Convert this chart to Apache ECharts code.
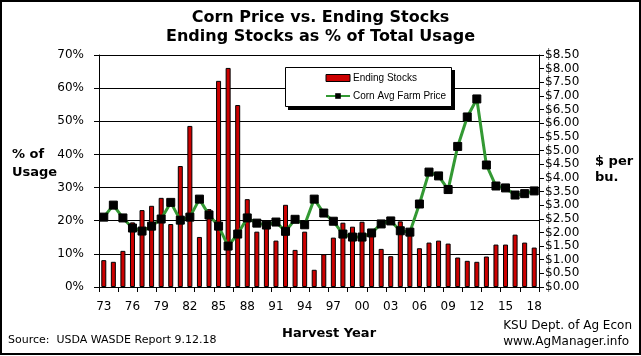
<!DOCTYPE html>
<html>
<head>
<meta charset="utf-8">
<script src="https://cdn.jsdelivr.net/npm/echarts@6/dist/echarts.min.js"></script>
<style>
html,body{margin:0;padding:0;background:#fff;}
#c{width:641px;height:356px;}
</style>
</head>
<body>
<div id="c"></div>
<script>
const years = ['73','74','75','76','77','78','79','80','81','82','83','84','85','86','87','88','89','90','91','92','93','94','95','96','97','98','99','00','01','02','03','04','05','06','07','08','09','10','11','12','13','14','15','16','17','18'];
const endingStocks = [8.1,7.6,10.9,19.5,23.2,24.5,26.9,19.0,36.5,48.6,15.1,23.5,62.2,66.1,54.9,26.5,16.7,18.0,14.0,24.8,11.2,16.7,5.2,9.9,14.9,19.4,18.2,19.7,16.3,11.5,9.3,19.8,17.0,11.7,13.4,14.0,13.1,8.9,7.9,7.6,9.2,12.8,12.8,15.8,13.4,11.9];
const cornPrice = [2.56,3.00,2.53,2.16,2.05,2.23,2.49,3.10,2.45,2.56,3.22,2.64,2.23,1.50,1.94,2.53,2.34,2.27,2.38,2.04,2.48,2.28,3.22,2.71,2.41,1.94,1.83,1.83,1.98,2.31,2.42,2.06,2.01,3.04,4.21,4.07,3.57,5.15,6.23,6.89,4.47,3.70,3.63,3.37,3.42,3.52];

const FONT = 'DejaVu Sans';
const chart = echarts.init(document.getElementById('c'), null, {renderer:'canvas'});
chart.setOption({
  backgroundColor: '#fff',
  animation: false,
  textStyle: {fontFamily: FONT, color: '#000'},
  grid: {left: 99, top: 55, width: 440, height: 232, containLabel: false},
  xAxis: {
    type: 'category',
    data: years,
    boundaryGap: true,
    axisLine: {lineStyle: {color: '#000', width: 1}},
    axisTick: {show: true, interval: 1, length: 5, lineStyle: {color: '#000'}},
    axisLabel: {interval: 2, color: '#000', fontSize: 12, fontFamily: FONT, margin: 14},
    splitLine: {show: false}
  },
  yAxis: [
    {
      type: 'value', min: 0, max: 70, interval: 10,
      axisLine: {show: true, lineStyle: {color: '#000'}},
      axisTick: {show: true, length: 5, lineStyle: {color: '#000'}},
      axisLabel: {formatter: '{value}%', color: '#000', fontSize: 12, fontFamily: FONT, margin: 15},
      splitLine: {show: true, lineStyle: {color: '#000', width: 1}}
    },
    {
      type: 'value', min: 0, max: 8.5, interval: 0.5, position: 'right',
      axisLine: {show: true, lineStyle: {color: '#000'}},
      axisTick: {show: true, length: 5, lineStyle: {color: '#000'}},
      axisLabel: {formatter: v => '$' + v.toFixed(2), color: '#000', fontSize: 12, fontFamily: FONT, margin: 6},
      splitLine: {show: false}
    }
  ],
  legend: {
    orient: 'vertical',
    left: 320, top: 68,
    itemGap: 8,
    itemWidth: 24, itemHeight: 7,
    textStyle: {fontFamily: 'Liberation Sans', fontSize: 10, color: '#000', padding: [0,0,0,-2]},
    z: 20,
    data: [
      {name: 'Ending Stocks', icon: 'rect', itemStyle: {color: '#cc0000', borderColor: '#000', borderWidth: 1}},
      {name: 'Corn Avg Farm Price'}
    ]
  },
  graphic: [
    {type: 'rect', z: 10, shape: {x: 288, y: 70, width: 167, height: 40}, style: {fill: '#000', stroke: null}},
    {type: 'rect', z: 11, shape: {x: 285.5, y: 67.5, width: 166, height: 39}, style: {fill: '#fff', stroke: '#000', lineWidth: 1}},
    {type: 'text', z: 20, left: 'center', top: 10, style: {text: 'Corn Price vs. Ending Stocks', font: 'bold 16px "DejaVu Sans"', fill: '#000'}},
    {type: 'text', z: 20, left: 'center', top: 29, style: {text: 'Ending Stocks as % of Total Usage', font: 'bold 16px "DejaVu Sans"', fill: '#000'}},
    {type: 'text', z: 20, left: 12, top: 146, style: {text: '% of\nUsage', font: 'bold 13px "DejaVu Sans"', fill: '#000', lineHeight: 18, align: 'center'}},
    {type: 'text', z: 20, left: 595, top: 154, style: {text: '$ per\nbu.', font: 'bold 13px "DejaVu Sans"', fill: '#000', lineHeight: 16, align: 'center'}},
    {type: 'text', z: 20, left: 282, top: 327, style: {text: 'Harvest Year', font: 'bold 13px "DejaVu Sans"', fill: '#000'}},
    {type: 'text', z: 20, left: 8, top: 335, style: {text: 'Source:  USDA WASDE Report 9.12.18', font: '11px "DejaVu Sans"', fill: '#000'}},
    {type: 'text', z: 20, right: 9, top: 318, style: {text: 'KSU Dept. of Ag Econ\nwww.AgManager.info', font: '12px "DejaVu Sans"', fill: '#000', lineHeight: 16, align: 'right'}},
    {type: 'rect', z: 30, shape: {x: 1, y: 1, width: 639, height: 353}, style: {fill: null, stroke: '#000', lineWidth: 2}}
  ],
  series: [
    {
      name: 'Ending Stocks', type: 'bar', yAxisIndex: 0,
      data: endingStocks, barWidth: 5,
      itemStyle: {color: '#cc0000', borderColor: '#000', borderWidth: 1},
      z: 2
    },
    {
      name: 'Corn Avg Farm Price', type: 'line', yAxisIndex: 1,
      data: cornPrice,
      lineStyle: {color: '#339933', width: 3},
      itemStyle: {color: '#000', borderColor: '#000'},
      symbol: 'rect', symbolSize: 8, showAllSymbol: true,
      z: 3
    }
  ]
});
</script>
</body>
</html>
